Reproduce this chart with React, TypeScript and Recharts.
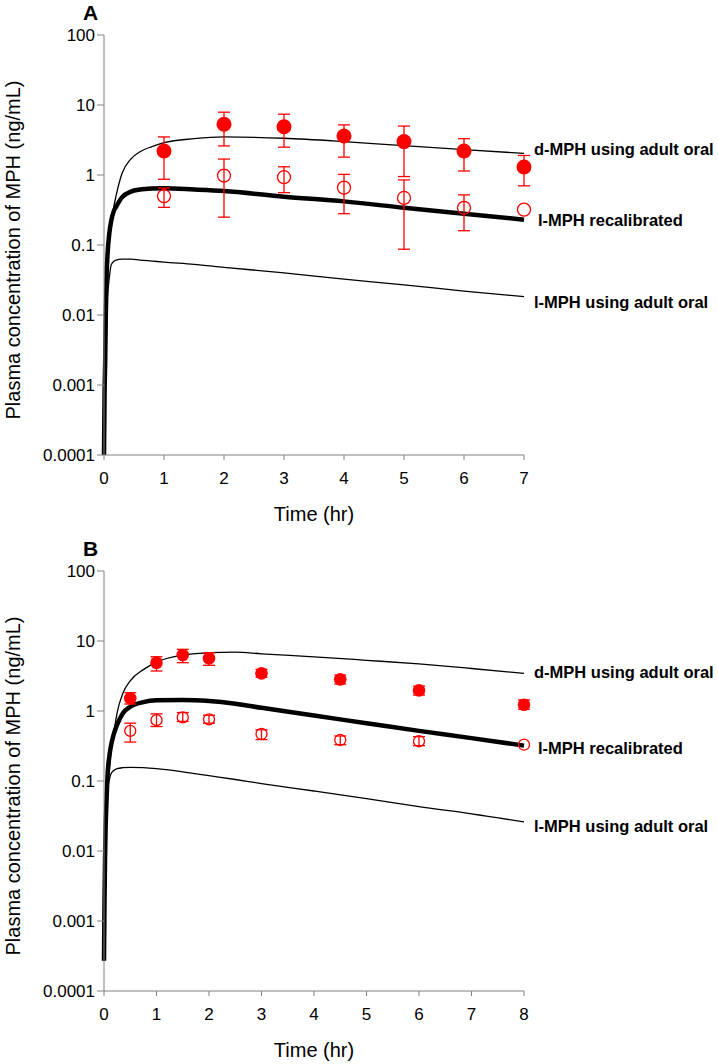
import { ComposedChart, Line, Scatter, ErrorBar, XAxis, YAxis, Label, LabelList } from "recharts"

const yTicks = [0.0001, 0.001, 0.01, 0.1, 1, 10, 100]

// ---- panel A: simulated curves
const curveTimeA = [0, 0.01, 0.02, 0.03, 0.045, 0.06, 0.09, 0.12, 0.16, 0.2, 0.3, 0.45, 0.6, 0.8, 1, 1.5, 2, 3, 4, 5, 6, 7]
const dAdultA = [0.0001, 0.0009, 0.0025, 0.011, 0.042, 0.078, 0.15, 0.2, 0.34, 0.5, 1.05, 1.7, 2.15, 2.55, 2.9, 3.3, 3.5, 3.35, 3.0, 2.62, 2.3, 2.04]
const lRecalA = [0.0001, 0.0008, 0.0022, 0.01, 0.04, 0.076, 0.15, 0.22, 0.3, 0.35, 0.48, 0.58, 0.62, 0.64, 0.645, 0.62, 0.59, 0.49, 0.42, 0.34, 0.28, 0.23]
const lAdultA = [0.0001, 0.0008, 0.0022, 0.008, 0.015, 0.02, 0.035, 0.052, 0.058, 0.061, 0.063, 0.063, 0.061, 0.059, 0.057, 0.053, 0.048, 0.04, 0.0325, 0.027, 0.022, 0.0183]

// ---- panel A: observed
const obsTimeA = [1, 2, 3, 4, 5, 6, 7]
const dMeanA = [2.2, 5.3, 4.9, 3.6, 3.0, 2.2, 1.3]
const dLowA = [0.87, 2.6, 2.5, 1.8, 0.95, 1.14, 0.7]
const dHighA = [3.5, 7.9, 7.4, 5.2, 5.0, 3.3, 1.9]
const lMeanA = [0.5, 0.98, 0.93, 0.66, 0.47, 0.34, 0.32]
const lLowA = [0.345, 0.25, 0.56, 0.28, 0.087, 0.16, 0.32]
const lHighA = [0.65, 1.69, 1.31, 1.02, 0.85, 0.52, 0.32]

// ---- panel B: simulated curves
const curveTimeB = [0, 0.01, 0.02, 0.03, 0.045, 0.07, 0.1, 0.13, 0.18, 0.25, 0.36, 0.5, 0.75, 1, 1.5, 2, 2.5, 3, 4, 5, 6, 7, 8]
const dAdultB = [0.00027, 0.002, 0.008, 0.02, 0.045, 0.1, 0.14, 0.25, 0.45, 0.95, 1.79, 2.7, 3.9, 5.0, 6.3, 6.8, 6.95, 6.55, 5.95, 5.3, 4.7, 4.05, 3.45]
const lRecalB = [0.00027, 0.002, 0.008, 0.02, 0.045, 0.13, 0.22, 0.31, 0.45, 0.64, 0.93, 1.15, 1.34, 1.42, 1.44, 1.39, 1.27, 1.11, 0.86, 0.67, 0.52, 0.41, 0.32]
const lAdultB = [0.00027, 0.002, 0.008, 0.02, 0.04, 0.075, 0.103, 0.125, 0.14, 0.15, 0.155, 0.157, 0.155, 0.15, 0.135, 0.119, 0.105, 0.092, 0.072, 0.056, 0.043, 0.034, 0.026]

// ---- panel B: observed
const obsTimeB = [0.5, 1, 1.5, 2, 3, 4.5, 6, 8]
const dMeanB = [1.52, 4.9, 6.3, 5.66, 3.45, 2.83, 1.97, 1.23]
const dLowB = [1.26, 3.73, 4.9, 4.5, 3.03, 2.43, 1.69, 1.06]
const dHighB = [1.83, 5.96, 7.6, 6.8, 3.94, 3.27, 2.27, 1.44]
const lMeanB = [0.52, 0.74, 0.81, 0.76, 0.47, 0.385, 0.37, 0.33]
const lLowB = [0.36, 0.6, 0.71, 0.67, 0.39, 0.33, 0.32, 0.33]
const lHighB = [0.67, 0.91, 0.95, 0.87, 0.54, 0.44, 0.43, 0.33]

const curveLabels = ["d-MPH using adult oral", "l-MPH recalibrated", "l-MPH using adult oral"]

const FONT = "Arial, 'Liberation Sans', sans-serif"
const RED = "#ff0000"
const AXIS = "#808080"

const toCurve = (t: number[], v: number[]) => t.map((x, i) => ({ t: x, v: v[i] }))
const toObs = (t: number[], mean: number[], low: number[], high: number[]) =>
  t.map((x, i) => ({
    t: x,
    v: mean[i],
    err: high[i] > low[i] ? [mean[i] - low[i], high[i] - mean[i]] : null,
  }))

const endLabel = (text: string, n: number, dx: number, dy: number) => (p: any) => {
  if (p.index !== n - 1) return null
  const x = p.x ?? p.viewBox?.x
  const y = p.y ?? p.viewBox?.y
  return (
    <text x={x + dx} y={y + dy} fontFamily={FONT} fontSize={16.5} fontWeight="bold" fill="#000" dominantBaseline="central">
      {text}
    </text>
  )
}

const yTitle = (letter: string) => (p: any) => {
  const vb = p.viewBox
  const cy = vb.y + vb.height / 2 + 5
  return (
    <g>
      <text x={83} y={vb.y - 15} fontFamily={FONT} fontSize={21} fontWeight="bold" fill="#000">
        {letter}
      </text>
      <text x={13} y={cy} transform={`rotate(-90, 13, ${cy})`} textAnchor="middle" dominantBaseline="central" fontFamily={FONT} fontSize={20} fill="#000">
        Plasma concentration of MPH (ng/mL)
      </text>
    </g>
  )
}

const xTitle = (p: any) => {
  const vb = p.viewBox
  return (
    <text x={vb.x + vb.width / 2} y={vb.y + 66} textAnchor="middle" fontFamily={FONT} fontSize={20} fill="#000">
      Time (hr)
    </text>
  )
}

type PanelProps = {
  letter: string
  top: number
  height: number
  xMax: number
  time: number[]
  curves: number[][]
  labelDy: number[]
  filled: { t: number; v: number; err: number[] | null }[]
  open: { t: number; v: number; err: number[] | null }[]
  rFilled: number
  rOpen: number
}

function Panel({ letter, top, height, xMax, time, curves, labelDy, filled, open, rFilled, rOpen }: PanelProps) {
  const xTicks = Array.from({ length: xMax + 1 }, (_, i) => i)
  const widths = [1.3, 4.5, 1.3]
  return (
    <div style={{ position: "absolute", left: 0, top }}>
      <ComposedChart width={718} height={height} margin={{ top: 35, right: 194, bottom: 0, left: 0 }}>
        <XAxis
          type="number"
          dataKey="t"
          domain={[0, xMax]}
          ticks={xTicks}
          interval={0}
          height={height - 35 - 420}
          tickSize={5}
          tickMargin={12}
          stroke={AXIS}
          tick={{ fill: "#000", fontSize: 17, fontFamily: FONT }}
        >
          <Label content={xTitle} />
        </XAxis>
        <YAxis
          type="number"
          dataKey="v"
          scale="log"
          domain={[0.0001, 100]}
          ticks={yTicks}
          interval={0}
          width={104}
          tickSize={7}
          tickMargin={2}
          stroke={AXIS}
          tickFormatter={(v: number) => String(v)}
          tick={{ fill: "#000", fontSize: 17, fontFamily: FONT }}
        >
          <Label content={yTitle(letter)} />
        </YAxis>
        {curves.map((vals, k) => (
          <Line
            key={k}
            data={toCurve(time, vals)}
            dataKey="v"
            type="monotone"
            stroke="#000"
            strokeWidth={widths[k]}
            dot={false}
            activeDot={false}
            isAnimationActive={false}
          >
            <LabelList dataKey="v" content={endLabel(curveLabels[k], time.length, k === 1 ? 14 : 10, labelDy[k])} />
          </Line>
        ))}
        <Scatter
          data={filled}
          isAnimationActive={false}
          shape={(p: any) => <circle cx={p.cx} cy={p.cy} r={rFilled} fill={RED} />}
        >
          <ErrorBar dataKey="err" direction="y" width={6} stroke={RED} strokeWidth={1.3} />
        </Scatter>
        <Scatter
          data={open}
          isAnimationActive={false}
          shape={(p: any) => <circle cx={p.cx} cy={p.cy} r={rOpen} fill="none" stroke={RED} strokeWidth={1.3} />}
        >
          <ErrorBar dataKey="err" direction="y" width={6} stroke={RED} strokeWidth={1.3} />
        </Scatter>
      </ComposedChart>
    </div>
  )
}

export default function App() {
  return (
    <div style={{ position: "absolute", left: 0, top: 0, width: 718, height: 1064, background: "#fff" }}>
      <Panel
        letter="A"
        top={0}
        height={532}
        xMax={7}
        time={curveTimeA}
        curves={[dAdultA, lRecalA, lAdultA]}
        labelDy={[-4, 0, 5]}
        filled={toObs(obsTimeA, dMeanA, dLowA, dHighA)}
        open={toObs(obsTimeA, lMeanA, lLowA, lHighA)}
        rFilled={7.5}
        rOpen={6.5}
      />
      <Panel
        letter="B"
        top={536}
        height={528}
        xMax={8}
        time={curveTimeB}
        curves={[dAdultB, lRecalB, lAdultB]}
        labelDy={[-1, 2, 4]}
        filled={toObs(obsTimeB, dMeanB, dLowB, dHighB)}
        open={toObs(obsTimeB, lMeanB, lLowB, lHighB)}
        rFilled={6.3}
        rOpen={5.5}
      />
    </div>
  )
}
